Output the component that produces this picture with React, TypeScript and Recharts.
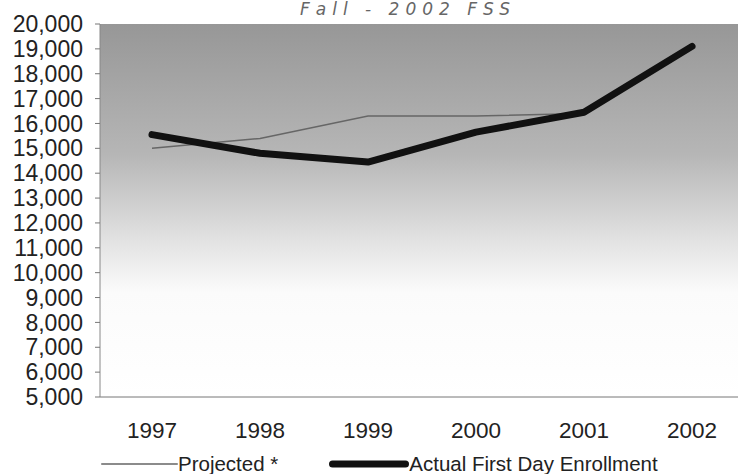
import React from "react";
import {
  LineChart,
  Line,
  XAxis,
  YAxis,
  CartesianGrid,
  Legend,
} from "recharts";

const years = ["1997", "1998", "1999", "2000", "2001", "2002"];
const projected = [15000, 15400, 16300, 16300, 16400, null];
const actual = [15550, 14800, 14450, 15650, 16450, 19100];
const yTicks = [5000, 6000, 7000, 8000, 9000, 10000, 11000, 12000, 13000, 14000, 15000, 16000, 17000, 18000, 19000, 20000];
const legendOrder = ["Projected *", "Actual First Day Enrollment"];

const data = years.map((year, i) => ({
  year,
  projected: projected[i],
  actual: actual[i],
}));

const FONT = "'Liberation Sans', Arial, sans-serif";

const renderLegend = (props: any) => {
  const payload = [...(props.payload || [])].sort(
    (a: any, b: any) => legendOrder.indexOf(a.value) - legendOrder.indexOf(b.value)
  );
  return (
    <div style={{ display: "flex", alignItems: "center", paddingLeft: 101, fontFamily: FONT, fontSize: 20.5, color: "#222" }}>
      {payload.map((entry: any, index: number) => {
        const sw = entry.payload?.strokeWidth || 1;
        const len = index === 0 ? 77 : 80;
        return (
          <div key={`item-${index}`} style={{ display: "flex", alignItems: "center", marginRight: index === 0 ? 51 : 0 }}>
            <svg width={len} height={12} style={{ display: "block" }}>
              <line
                x1={sw / 2}
                x2={len - sw / 2}
                y1={6}
                y2={6}
                stroke={entry.color}
                strokeWidth={sw}
                strokeLinecap="round"
              />
            </svg>
            <span style={{ whiteSpace: "nowrap" }}>{entry.value}</span>
          </div>
        );
      })}
    </div>
  );
};

export default function App() {
  return (
    <div style={{ position: "absolute", left: 0, top: 0, width: 738, height: 474, overflow: "hidden", background: "#fff" }}>
      <div style={{ position: "absolute", left: 300, top: 1, lineHeight: 1, fontFamily: "'DejaVu Sans', sans-serif", fontSize: 17, color: "#666", fontStyle: "italic", letterSpacing: 6, zIndex: 2 }}>
        Fall - 2002 FSS
      </div>
      <LineChart width={738} height={474} data={data} margin={{ top: 24, right: 0, left: 0, bottom: 0 }}>
        <defs>
          <linearGradient id="plotBg" x1="0" y1="0" x2="0" y2="1">
            <stop offset="0%" stopColor="#979797" />
            <stop offset="35%" stopColor="#b6b6b6" />
            <stop offset="58%" stopColor="#e2e2e2" />
            <stop offset="72%" stopColor="#fbfbfb" />
            <stop offset="100%" stopColor="#ffffff" />
          </linearGradient>
        </defs>
        <CartesianGrid horizontal={false} vertical={false} fill="url(#plotBg)" />
        <XAxis
          dataKey="year"
          padding={{ left: 52, right: 46 }}
          height={55}
          tickLine={false}
          tickSize={0}
          tickMargin={25}
          axisLine={{ stroke: "#777" }}
          tick={{ fill: "#222", fontSize: 22.5, fontFamily: FONT }}
        />
        <YAxis
          domain={[5000, 20000]}
          ticks={yTicks}
          interval={0}
          width={100}
          tickSize={5}
          tickMargin={12}
          tickLine={{ stroke: "#777" }}
          axisLine={{ stroke: "#888" }}
          tick={{ fill: "#222", fontSize: 23, fontFamily: FONT }}
          tickFormatter={(v: number) => v.toLocaleString("en-US")}
        />
        <Legend verticalAlign="bottom" height={22} content={renderLegend} />
        <Line
          type="linear"
          dataKey="projected"
          name="Projected *"
          stroke="#666666"
          strokeWidth={1.5}
          dot={false}
          isAnimationActive={false}
        />
        <Line
          type="linear"
          dataKey="actual"
          name="Actual First Day Enrollment"
          stroke="#111111"
          strokeWidth={7}
          strokeLinecap="round"
          strokeLinejoin="round"
          dot={false}
          isAnimationActive={false}
        />
      </LineChart>
    </div>
  );
}
